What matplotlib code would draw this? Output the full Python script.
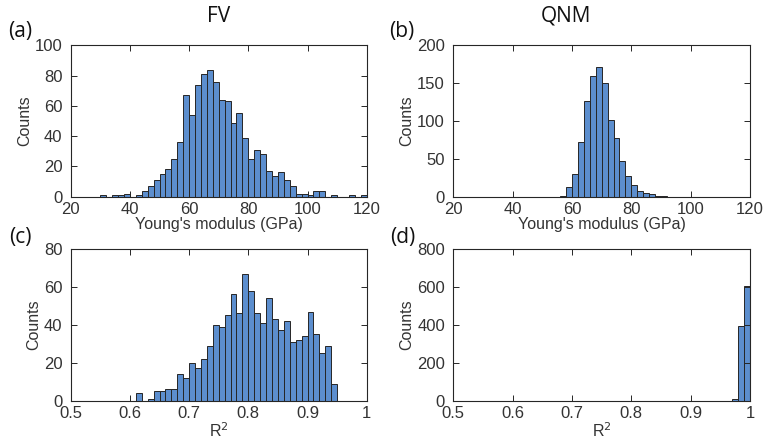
import numpy as np
import matplotlib
matplotlib.use("Agg")
import matplotlib.pyplot as plt

# bin edges: 2 GPa bins for modulus, 0.01 bins for R^2
fv_mod_edges = np.arange(20, 122, 2)
fv_mod_counts = [0, 0, 0, 0, 0, 1, 0, 1, 1, 2,
                 0, 1, 4, 7, 11, 15, 18, 25, 36, 67,
                 54, 74, 81, 84, 76, 64, 63, 49, 55, 39,
                 25, 31, 28, 17, 14, 16, 11, 7, 2, 2,
                 1, 4, 4, 0, 1, 0, 0, 1, 0, 1]

qnm_mod_edges = np.arange(20, 122, 2)
qnm_mod_counts = [0] * 18 + [1, 13, 30, 72, 126, 160, 172, 150, 102, 77,
                             47, 28, 16, 8, 5, 4, 1, 1] + [0] * 14

fv_r2_edges = np.round(np.arange(0.5, 1.001, 0.01), 2)
fv_r2_counts = [0] * 11 + [4, 0, 1, 5, 5, 6, 6, 14, 12, 20,
                           17, 22, 29, 40, 39, 45, 56, 46, 67, 58,
                           46, 41, 54, 43, 37, 42, 31, 32, 34, 47,
                           35, 25, 29, 9] + [0] * 5

qnm_r2_edges = np.round(np.arange(0.5, 1.001, 0.01), 2)
qnm_r2_counts = [0] * 47 + [11, 396, 607]

bar_color = "#5C8ECE"
edge_color = "#262626"
axis_color = "#262626"
tick_font = "Liberation Sans"
label_font = "Open Sans"


def hist_panel(ax, edges, counts, xlim, xticks, ylim, yticks, xlabel):
    edges = np.asarray(edges, dtype=float)
    ax.bar(edges[:-1], counts, width=np.diff(edges), align="edge",
           color=bar_color, edgecolor=edge_color, linewidth=0.7)
    ax.set_xlim(*xlim)
    ax.set_ylim(*ylim)
    ax.set_xticks(xticks)
    ax.set_yticks(yticks)
    ax.set_xticklabels([("%g" % t) for t in xticks])
    ax.tick_params(direction="in", top=True, right=True, length=4, width=0.7,
                   labelsize=12, colors=axis_color)
    ax.tick_params(axis="x", pad=4)
    ax.tick_params(axis="y", pad=6)
    for lab in ax.get_xticklabels() + ax.get_yticklabels():
        lab.set_fontfamily(tick_font)
        lab.set_color("#333333")
    for sp in ax.spines.values():
        sp.set_color(axis_color)
        sp.set_linewidth(0.8)
    ax.set_xlabel(xlabel, fontsize=11.5, family=tick_font, color="#333333", labelpad=0)
    ax.set_ylabel("Counts", fontsize=11.5, family=tick_font, color="#333333", labelpad=2)


fig = plt.figure(figsize=(7.65, 4.45), dpi=100)

ax_a = fig.add_axes([0.0924, 0.558, 0.387, 0.340])
ax_b = fig.add_axes([0.5925, 0.558, 0.388, 0.340])
ax_c = fig.add_axes([0.0924, 0.0996, 0.387, 0.341])
ax_d = fig.add_axes([0.5925, 0.0996, 0.388, 0.341])

mod_ticks = [20, 40, 60, 80, 100, 120]
r2_ticks = [0.5, 0.6, 0.7, 0.8, 0.9, 1]

hist_panel(ax_a, fv_mod_edges, fv_mod_counts, (20, 120), mod_ticks,
           (0, 100), [0, 20, 40, 60, 80, 100], "Young's modulus (GPa)")
hist_panel(ax_b, qnm_mod_edges, qnm_mod_counts, (20, 120), mod_ticks,
           (0, 200), [0, 50, 100, 150, 200], "Young's modulus (GPa)")
hist_panel(ax_c, fv_r2_edges, fv_r2_counts, (0.5, 1), r2_ticks,
           (0, 80), [0, 20, 40, 60, 80], "R$^2$")
hist_panel(ax_d, qnm_r2_edges, qnm_r2_counts, (0.5, 1), r2_ticks,
           (0, 800), [0, 200, 400, 600, 800], "R$^2$")

# column titles and panel letters
fig.text(219 / 765, 1 - 16 / 445, "FV", fontsize=15, family=label_font,
         ha="center", va="center", color="#111111")
fig.text(566 / 765, 1 - 16 / 445, "QNM", fontsize=15, family=label_font,
         ha="center", va="center", color="#111111")
for x, y, s in [(20, 31, "(a)"), (402, 31, "(b)"), (20, 238, "(c)"), (403, 238, "(d)")]:
    fig.text(x / 765, 1 - y / 445, s, fontsize=15, family=label_font,
             ha="center", va="center", color="#111111")

fig.savefig("out.png", dpi=100)
